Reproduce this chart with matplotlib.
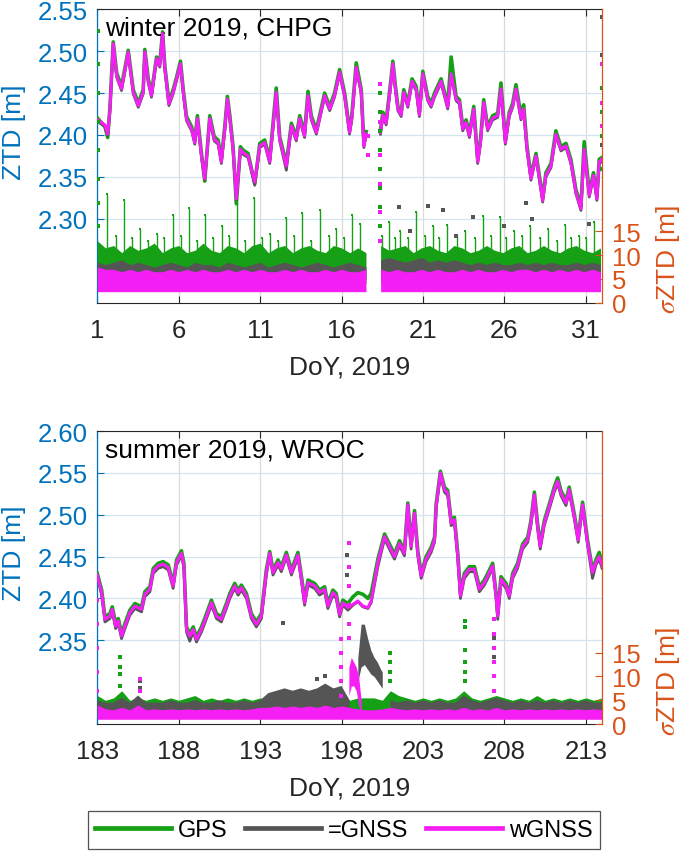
import numpy as np
import matplotlib
matplotlib.use('Agg')
import matplotlib.pyplot as plt
from matplotlib.lines import Line2D

plt.rcParams['font.family'] = ['Liberation Sans', 'DejaVu Sans']
plt.rcParams['mathtext.fontset'] = 'stix'

C_GPS = '#15a015'
C_GNSS = '#555555'
C_W = '#f51ef5'
C_BLUE = '#0072bd'
C_OR = '#d95319'
C_DARK = '#262626'

# ---------------- winter (CHPG) ZTD [m] ----------------
win_day = [1.02, 1.47, 1.64, 1.78, 1.98, 2.19, 2.49, 2.90, 3.21, 3.52, 3.82, 3.92, 4.13, 4.33,
           4.64, 4.84, 5.01, 5.15, 5.40, 5.66, 5.87, 6.11, 6.28, 6.48, 6.79, 6.99, 7.15, 7.40,
           7.60, 7.91, 8.18, 8.42, 8.62, 8.83, 8.99, 9.14, 9.34, 9.54, 9.79, 9.95, 10.26, 10.67,
           10.98, 11.28, 11.59, 11.99, 12.20, 12.61, 12.92, 13.22, 13.43, 13.73, 13.94, 14.14,
           14.45, 14.65, 14.96, 15.27, 15.57, 15.88, 16.19, 16.49, 16.63, 16.90, 17.21, 17.37,
           17.51, 17.90, 18.39, 18.54, 18.74, 19.01, 19.15, 19.31, 19.46, 19.66, 19.82, 20.07,
           20.33, 20.58, 20.78, 20.99, 21.29, 21.50, 21.71, 22.11, 22.52, 22.73, 23.03, 23.24,
           23.44, 23.65, 23.85, 24.12, 24.36, 24.53, 24.73, 24.97, 25.28, 25.59, 25.79, 26.06,
           26.30, 26.51, 26.71, 27.02, 27.18, 27.39, 27.63, 27.94, 28.35, 28.55, 28.86, 29.16,
           29.47, 29.78, 30.08, 30.39, 30.70, 30.90, 31.21, 31.47, 31.68, 31.82, 31.98]
nan = np.nan
win_ztd_wgnss = [2.418, 2.412, 2.401, 2.431, 2.509, 2.471, 2.455, 2.499, 2.451, 2.435, 2.451, 2.499,
                 2.464, 2.447, 2.491, 2.483, 2.521, 2.479, 2.437, 2.451, 2.467, 2.485, 2.451, 2.419,
                 2.407, 2.391, 2.420, 2.375, 2.348, 2.420, 2.395, 2.391, 2.368, 2.407, 2.443, 2.420,
                 2.383, 2.324, 2.383, 2.379, 2.375, 2.344, 2.387, 2.391, 2.368, 2.451, 2.395, 2.363,
                 2.411, 2.395, 2.420, 2.399, 2.447, 2.420, 2.403, 2.420, 2.447, 2.431, 2.447, 2.475,
                 2.447, 2.403, 2.420, 2.481, 2.451, 2.387, 2.401, nan, 2.403, 2.424, 2.414, 2.459,
                 2.485, 2.455, 2.431, 2.424, 2.451, 2.435, 2.464, 2.455, 2.424, 2.473, 2.443, 2.435,
                 2.447, 2.464, 2.433, 2.473, 2.443, 2.439, 2.407, 2.415, 2.399, 2.431, 2.368, 2.391,
                 2.439, 2.407, 2.420, 2.423, 2.455, 2.391, 2.424, 2.435, 2.455, 2.420, 2.431, 2.383,
                 2.348, 2.375, 2.322, 2.352, 2.363, 2.401, 2.383, 2.387, 2.368, 2.332, 2.312, 2.383,
                 2.328, 2.352, 2.324, 2.368, 2.370]
win_ztd_gps = [2.420, 2.410, 2.397, 2.433, 2.511, 2.474, 2.458, 2.501, 2.454, 2.438, 2.454, 2.502,
               2.467, 2.450, 2.493, 2.486, 2.523, 2.482, 2.440, 2.454, 2.469, 2.488, 2.454, 2.422,
               2.410, 2.394, 2.423, 2.378, 2.345, 2.423, 2.398, 2.394, 2.371, 2.410, 2.446, 2.423,
               2.386, 2.318, 2.386, 2.382, 2.378, 2.342, 2.390, 2.394, 2.371, 2.456, 2.398, 2.366,
               2.414, 2.398, 2.423, 2.402, 2.452, 2.423, 2.406, 2.423, 2.450, 2.434, 2.450, 2.478,
               2.450, 2.406, 2.423, 2.486, 2.454, 2.390, 2.404, nan, 2.406, 2.427, 2.417, 2.462,
               2.488, 2.458, 2.434, 2.427, 2.454, 2.438, 2.467, 2.458, 2.427, 2.476, 2.446, 2.438,
               2.450, 2.467, 2.436, 2.493, 2.446, 2.442, 2.410, 2.418, 2.402, 2.434, 2.371, 2.394,
               2.442, 2.410, 2.423, 2.426, 2.462, 2.394, 2.427, 2.438, 2.460, 2.423, 2.436, 2.386,
               2.351, 2.378, 2.325, 2.355, 2.366, 2.405, 2.386, 2.390, 2.371, 2.335, 2.315, 2.392,
               2.331, 2.355, 2.327, 2.371, 2.373]
win_ztd_gnss = [2.416, 2.410, 2.399, 2.429, 2.507, 2.469, 2.453, 2.497, 2.449, 2.433, 2.449, 2.497,
                2.462, 2.445, 2.489, 2.481, 2.519, 2.477, 2.435, 2.449, 2.465, 2.483, 2.449, 2.417,
                2.405, 2.389, 2.418, 2.373, 2.346, 2.418, 2.393, 2.389, 2.366, 2.405, 2.441, 2.418,
                2.381, 2.322, 2.381, 2.377, 2.373, 2.340, 2.385, 2.389, 2.366, 2.449, 2.393, 2.358,
                2.409, 2.393, 2.418, 2.397, 2.445, 2.418, 2.401, 2.418, 2.445, 2.429, 2.445, 2.473,
                2.445, 2.401, 2.418, 2.479, 2.449, 2.385, 2.399, nan, 2.401, 2.422, 2.412, 2.457,
                2.483, 2.453, 2.429, 2.422, 2.449, 2.433, 2.462, 2.453, 2.422, 2.471, 2.441, 2.433,
                2.445, 2.462, 2.431, 2.471, 2.441, 2.437, 2.405, 2.413, 2.397, 2.429, 2.366, 2.389,
                2.437, 2.405, 2.418, 2.421, 2.453, 2.389, 2.422, 2.433, 2.453, 2.418, 2.429, 2.381,
                2.346, 2.373, 2.320, 2.350, 2.361, 2.399, 2.381, 2.385, 2.366, 2.330, 2.310, 2.381,
                2.326, 2.350, 2.322, 2.366, 2.368]

# ---------------- winter sigma envelopes [per half day] ----------------
win_sdayA = np.arange(1.0, 17.51, 0.5)
win_sdayB = np.arange(18.4, 31.91, 0.5)
win_gps_hiA = [13, 11.5, 12, 10.5, 12, 11, 11.5, 12.5, 10.5, 11.5, 12, 10.5, 11, 12.5, 11, 10.5, 12,
               11.5, 10.5, 12, 12.5, 10.5, 11.5, 12, 10.5, 11.5, 12, 11, 10.5, 12, 11.5, 10.5, 11.5, 10.5]
win_gps_hiB = [12, 11, 11.5, 12, 10.5, 11.5, 12, 11, 10.5, 12, 11.5, 10.5, 11, 12, 11, 10.5, 11.5,
               12, 10.5, 11, 12, 11, 10.5, 11.5, 12, 11, 10.5, 11.5]
win_gnss_hiA = [8.5, 8, 8.5, 9, 8, 8.5, 8, 7.5, 8, 8.5, 8, 7.5, 8.5, 8, 8, 7.5, 8.5, 8, 7.5, 8, 8.5,
                7.5, 8, 8.5, 8, 7.5, 8, 8.5, 8, 7.5, 8, 8.5, 8, 7.5]
win_gnss_hiB = [9, 9.5, 9, 8.5, 9, 9.5, 8.5, 9, 8.5, 9, 8.5, 8, 8.5, 8, 8.5, 8, 8, 8.5, 8, 8.5, 8,
                8.5, 8, 8, 8.5, 8, 8.5, 8]
win_w_hiA = [7.5, 7, 7, 6.5, 7, 6.5, 7, 6.5, 6.5, 7, 6.5, 7, 6.5, 7, 6.5, 6.5, 7, 6.5, 7, 6.5, 7,
             6.5, 6.5, 7, 6.5, 7, 6.5, 6.5, 7, 6.5, 7, 6.5, 6.5, 7]
win_w_hiB = [7, 6.5, 7, 6.5, 6.5, 7, 6.5, 7, 6.5, 6.5, 7, 6.5, 7, 6.5, 6.5, 7, 6.5, 7, 7, 6.5, 7,
             6.5, 7, 6.5, 7, 6.5, 7, 6.5]
win_gps_lo, win_gnss_lo, win_w_lo = 4.0, 5.0, 2.3

# GPS sigma spikes (day, top value)
win_spk_day = [1.62, 2.14, 2.64, 3.12, 3.62, 4.13, 4.64, 5.1, 5.62, 6.14, 6.64, 7.1, 7.60, 8.1,
               8.63, 9.1, 9.55, 10.1, 10.61, 11.1, 11.59, 12.1, 12.61, 13.1, 13.59, 14.1, 14.65,
               15.2, 15.68, 16.15, 16.66, 17.11, 18.5, 18.9, 19.3, 19.6, 20.1, 20.6, 21.1, 21.6,
               22.0, 22.5, 23.1, 23.6, 24.2, 24.7, 25.2, 25.7, 26.1, 26.6, 27.1, 27.6, 28.2, 28.7,
               29.2, 29.7, 30.1, 30.6, 31.0, 31.5]
win_spk_sig = [22.8, 14, 21.6, 13.5, 15.5, 13, 14.5, 13.5, 18.5, 14, 19.8, 13, 18.3, 13.5, 16,
               14, 21.1, 13, 21.9, 13.5, 14.5, 13, 17.8, 14, 18.9, 13, 19.5, 14, 15.5, 13.5,
               18.3, 16.6, 14, 17, 13.5, 15, 13.5, 19, 14, 16, 13.5, 16.4, 14, 15, 13.5, 18.1,
               14, 18, 13.5, 15, 14, 16, 13.5, 15.5, 13, 16.4, 13.5, 14, 13.5, 17]
# isolated outliers
win_pt_gps_day = [1.02, 1.02, 1.02, 1.02, 1.02, 1.02, 1.02, 1.02, 18.38, 18.38, 18.38, 18.38,
                  18.38, 18.38, 18.38, 18.38, 31.97, 31.97, 31.97, 31.97]
win_pt_gps_sig = [57, 50, 44, 38, 32, 26, 21, 16, 44, 40, 36, 32, 28, 24, 20, 16, 45, 40, 35, 28]
win_pt_gnss_day = [19.5, 21.3, 22.2, 24.1, 27.3, 27.7, 31.2, 20.2, 23.0, 26.0, 31.97, 31.97, 31.97]
win_pt_gnss_sig = [20, 20.2, 19.4, 18, 21, 17.5, 16.5, 15, 14, 16, 60, 52, 33]
win_pt_w_day = [18.38, 18.38, 18.38, 18.38, 18.38, 18.38, 31.97, 31.97, 31.97, 31.97, 17.6, 17.65]
win_pt_w_sig = [46, 38, 31, 25, 19, 13, 50, 42, 37, 30, 35, 31]

# ---------------- summer (WROC) ZTD [m] ----------------
sum_day = [183.00, 183.27, 183.47, 183.78, 183.92, 184.13, 184.29, 184.49, 184.70, 185.00, 185.31,
           185.72, 185.92, 186.23, 186.44, 186.74, 187.05, 187.36, 187.66, 187.87, 188.17, 188.32,
           188.48, 188.68, 188.89, 189.09, 189.40, 189.71, 190.01, 190.32, 190.62, 190.93, 191.14,
           191.44, 191.65, 191.85, 192.16, 192.46, 192.77, 193.08, 193.38, 193.59, 193.79, 194.10,
           194.30, 194.61, 194.92, 195.32, 195.57, 195.73, 195.94, 196.35, 196.65, 196.96, 197.16,
           197.47, 197.67, 197.88, 198.08, 198.39, 198.70, 199.00, 199.31, 199.62, 199.82, 200.23,
           200.64, 200.94, 201.25, 201.56, 201.86, 202.07, 202.27, 202.48, 202.68, 202.89, 203.19,
           203.50, 203.71, 203.81, 204.07, 204.32, 204.52, 204.73, 204.93, 205.14, 205.30, 205.54,
           205.85, 206.16, 206.46, 206.77, 206.98, 207.28, 207.49, 207.59, 207.79, 208.10, 208.30,
           208.51, 208.81, 209.12, 209.43, 209.63, 209.84, 210.04, 210.20, 210.45, 210.76, 211.06,
           211.27, 211.47, 211.78, 211.98, 212.29, 212.53, 212.80, 213.11, 213.41, 213.62, 213.82,
           214.00]
sum_ztd_wgnss = [2.428, 2.407, 2.375, 2.379, 2.387, 2.367, 2.373, 2.355, 2.367, 2.383, 2.391, 2.387,
                 2.405, 2.411, 2.433, 2.439, 2.441, 2.437, 2.415, 2.443, 2.454, 2.439, 2.363, 2.355,
                 2.363, 2.351, 2.363, 2.379, 2.395, 2.379, 2.375, 2.391, 2.403, 2.415, 2.407, 2.413,
                 2.403, 2.379, 2.369, 2.379, 2.431, 2.454, 2.431, 2.443, 2.435, 2.452, 2.431, 2.452,
                 2.419, 2.395, 2.419, 2.415, 2.407, 2.411, 2.391, 2.407, 2.403, 2.381, 2.395, 2.389,
                 2.393, 2.397, 2.391, 2.389, 2.397, 2.443, 2.474, 2.462, 2.450, 2.466, 2.454, 2.512,
                 2.462, 2.502, 2.454, 2.427, 2.447, 2.458, 2.470, 2.510, 2.550, 2.530, 2.526, 2.490,
                 2.494, 2.450, 2.403, 2.427, 2.435, 2.435, 2.411, 2.419, 2.427, 2.439, 2.403, 2.379,
                 2.423, 2.415, 2.403, 2.427, 2.439, 2.462, 2.470, 2.490, 2.524, 2.486, 2.462, 2.490,
                 2.510, 2.530, 2.540, 2.526, 2.514, 2.530, 2.498, 2.470, 2.512, 2.466, 2.431, 2.443,
                 2.450, 2.439]
sum_ztd_gps = [2.430, 2.410, 2.378, 2.382, 2.390, 2.370, 2.376, 2.358, 2.370, 2.386, 2.394, 2.390,
               2.408, 2.414, 2.436, 2.442, 2.444, 2.440, 2.418, 2.446, 2.457, 2.442, 2.366, 2.358,
               2.366, 2.354, 2.366, 2.382, 2.398, 2.382, 2.378, 2.394, 2.406, 2.418, 2.410, 2.416,
               2.406, 2.382, 2.372, 2.382, 2.434, 2.456, 2.434, 2.446, 2.438, 2.455, 2.434, 2.455,
               2.422, 2.398, 2.422, 2.418, 2.410, 2.414, 2.394, 2.410, 2.406, 2.384, 2.398, 2.394,
               2.402, 2.407, 2.405, 2.400, 2.406, 2.447, 2.477, 2.465, 2.453, 2.469, 2.457, 2.514,
               2.465, 2.505, 2.457, 2.430, 2.450, 2.461, 2.473, 2.513, 2.552, 2.533, 2.529, 2.493,
               2.497, 2.453, 2.406, 2.430, 2.438, 2.438, 2.414, 2.422, 2.430, 2.442, 2.406, 2.382,
               2.426, 2.418, 2.406, 2.430, 2.442, 2.465, 2.473, 2.493, 2.527, 2.489, 2.465, 2.493,
               2.513, 2.533, 2.544, 2.529, 2.517, 2.533, 2.501, 2.473, 2.515, 2.469, 2.434, 2.446,
               2.455, 2.442]
sum_ztd_gnss = [2.426, 2.404, 2.372, 2.376, 2.384, 2.364, 2.370, 2.352, 2.364, 2.380, 2.388, 2.384,
                2.402, 2.408, 2.430, 2.436, 2.438, 2.434, 2.412, 2.440, 2.451, 2.436, 2.360, 2.349,
                2.360, 2.348, 2.360, 2.376, 2.392, 2.376, 2.372, 2.388, 2.400, 2.412, 2.404, 2.410,
                2.400, 2.376, 2.366, 2.376, 2.428, 2.451, 2.428, 2.440, 2.432, 2.449, 2.428, 2.449,
                2.416, 2.392, 2.416, 2.412, 2.404, 2.408, 2.388, 2.404, 2.400, 2.378, 2.392, 2.386,
                2.392, 2.396, 2.390, 2.388, 2.395, 2.438, 2.471, 2.459, 2.447, 2.463, 2.451, 2.509,
                2.459, 2.499, 2.451, 2.424, 2.444, 2.455, 2.467, 2.507, 2.547, 2.527, 2.523, 2.487,
                2.491, 2.447, 2.400, 2.424, 2.432, 2.432, 2.408, 2.416, 2.424, 2.436, 2.400, 2.375,
                2.420, 2.412, 2.400, 2.424, 2.436, 2.459, 2.467, 2.487, 2.521, 2.483, 2.459, 2.487,
                2.507, 2.527, 2.537, 2.523, 2.511, 2.527, 2.495, 2.467, 2.509, 2.463, 2.424, 2.440,
                2.447, 2.436]

# ---------------- summer sigma envelopes [per half day] ----------------
sum_sday = np.arange(183.0, 214.01, 0.5)
sum_gps_hi = [6, 5, 5.5, 7, 5, 5.5, 5, 5.5, 5, 5.5, 5, 5.5, 6, 5, 5.5, 5, 5.5, 5, 5.5, 5, 5.5, 5,
              5.5, 5, 5.5, 5, 5.5, 5, 6, 5.5, 6, 5, 5.5, 5.5, 5.5, 5, 7, 6, 5.5, 5, 5.5, 5, 5.5, 5,
              5.5, 7, 5.5, 5, 5.5, 6, 5.5, 5, 5.5, 5, 6, 5, 5.5, 5, 5.5, 5, 5.5, 5, 5.5]
sum_gnss_hi = [5, 4.5, 4.5, 5.5, 4.5, 6, 4.5, 4.5, 4.5, 5, 4.5, 4.5, 5, 4.5, 4.5, 5, 4.5, 4.5, 5,
               4.5, 5, 6.5, 7, 7.5, 7, 7.5, 7, 7.5, 8.5, 7.5, 8, 5, nan, nan, nan, nan, 5, 4.5, 5,
               4.5, 5, 4.5, 5, 4.5, 4.5, 6, 5, 4.5, 5, 5.5, 5, 4.5, 5, 4.5, 5, 4.5, 5, 4.5, 5, 4.5,
               5, 4.5, 4.5]
sum_gnss_lo = [2, 2, 2, 2, 2, 2, 2, 2, 2, 2, 2, 2, 2, 2, 2, 2, 2, 2, 2, 2, 2, 2.5, 3, 3, 3, 3, 3, 3,
               3, 3, 3, 2, nan, nan, nan, nan, 2, 2, 2, 2, 2, 2, 2, 2, 2, 2, 2, 2, 2, 2, 2, 2, 2, 2,
               2, 2, 2, 2, 2, 2, 2, 2, 2]
sum_w_hi = [4, 3.2, 3, 3.5, 3, 4, 3, 3.2, 3, 3.2, 3, 3.2, 3, 3.2, 3, 3.2, 3, 3.2, 3, 3.2, 3.5, 3.5,
            3.8, 3.5, 3.8, 3.5, 3.8, 3.5, 4, 3.5, 3.8, 3.5, 3.2, 3, 3, 3.2, 3.5, 3.2, 3, 3.2, 3,
            3.2, 3, 3.2, 3, 3.5, 3, 3.2, 3, 3.5, 3, 3.2, 3, 3.2, 3, 3.2, 3, 3.2, 3, 3.2, 3, 3.2, 3]
sum_gps_lo, sum_w_lo = 1.5, 1.0

sum_gnss_seg_day = [199.0, 199.2, 199.4, 199.6, 199.8, 200.0, 200.2, 200.4, 200.5]
sum_gnss_seg_hi = [14, 21, 21, 18, 15.5, 14, 13, 11.5, 11]
sum_gnss_seg_lo = [9, 12, 12.5, 11.5, 10.5, 10, 9, 8, 7.5]
sum_w_seg_day = [198.45, 198.6, 198.75, 198.9, 199.05, 199.2]
sum_w_seg_hi = [12, 14, 13, 12, 10, 5]
sum_w_seg_lo = [6, 8, 8, 7, 4, 2]

sum_pt_gps_day = [184.39, 184.39, 184.39, 184.39, 205.58, 205.58, 205.58, 205.58, 205.58, 205.58,
                  201.0, 201.0, 201.0, 201.0]
sum_pt_gps_sig = [14, 12, 10.5, 8, 21.6, 20.5, 15.6, 13, 11, 9, 15, 13, 11, 9]
sum_pt_gnss_day = [198.35, 198.35, 194.4, 207.38, 207.38, 207.38, 185.6, 185.6, 196.5, 197.0]
sum_pt_gnss_sig = [35.6, 31.4, 21.3, 18, 16, 14, 9, 7.5, 9.5, 10]
sum_pt_w_day = [183.0, 183.0, 183.0, 183.0, 183.0, 183.0, 197.98, 197.98, 197.98, 197.98, 197.98,
                198.45, 198.45, 198.45, 198.45, 198.45, 198.45, 207.38, 207.38, 207.38, 207.38,
                207.38, 207.38, 185.6, 185.6]
sum_pt_w_sig = [31, 26, 21, 16, 11, 7, 17.8, 15, 12, 9, 6, 38, 33, 29, 25, 21, 18, 22, 19, 16, 13,
                10, 7, 9.4, 7]

TICK_FS = 18.5
LAB_FS = 19


def draw_panel(ax, days, ztd_gps, ztd_gnss, ztd_w, xlim, xticks, ylim, yticks, title,
               bands, segs, spikes, pts):
    ax2 = ax.twinx()
    # ZTD lines
    ax.plot(days, ztd_gps, color=C_GPS, lw=2.6, zorder=3)
    ax.plot(days, ztd_gnss, color=C_GNSS, lw=2.0, zorder=3.1)
    ax.plot(days, ztd_w, color=C_W, lw=2.2, zorder=3.2)
    # sigma bands
    for (x, lo, hi, c, z) in bands:
        ax2.fill_between(x, lo, hi, color=c, lw=0, zorder=z)
    for (x, lo, hi, c, z) in segs:
        ax2.fill_between(x, lo, hi, color=c, lw=0, zorder=z)
    if spikes is not None:
        sd, ss = spikes
        ax2.vlines(sd, 9, ss, color=C_GPS, lw=1.0, zorder=1)
        ax2.plot(sd, ss, 's', color=C_GPS, ms=2, mew=0, zorder=1)
    for (x, y, c) in pts:
        ax2.plot(x, y, 's', color=c, ms=2.2, mew=0, zorder=2)

    ax.set_xlim(*xlim)
    ax.set_ylim(*ylim)
    ax2.set_ylim(0, 61.6)
    ax.set_xticks(xticks)
    ax.set_yticks(yticks)
    ax.set_yticklabels(['%.2f' % v for v in yticks])
    ax2.set_yticks([0, 5, 10, 15])

    ax.grid(axis='y', color='#d3e5f2', lw=0.9, zorder=0)
    ax.grid(axis='x', color='#dadada', lw=0.9, zorder=0)
    ax.set_axisbelow(True)

    ax.tick_params(axis='x', direction='in', length=5, width=0.8, colors=C_DARK, top=True,
                   labelsize=TICK_FS, pad=11)
    ax.tick_params(axis='y', direction='in', length=5, width=0.8, colors=C_BLUE,
                   labelsize=TICK_FS, pad=7)
    ax2.tick_params(axis='y', direction='in', length=5, width=0.8, colors=C_OR,
                    labelsize=TICK_FS, pad=7)
    for s in ['top', 'bottom']:
        ax.spines[s].set_color(C_DARK)
        ax.spines[s].set_linewidth(0.8)
    ax.spines['left'].set_color(C_BLUE)
    ax.spines['right'].set_visible(False)
    for s in ['left', 'top', 'bottom']:
        ax2.spines[s].set_visible(False)
    ax2.spines['right'].set_color(C_OR)
    ax2.spines['right'].set_linewidth(0.9)
    ax.spines['left'].set_linewidth(0.9)

    ax.text(0.016, 0.937, title, transform=ax.transAxes, ha='left', va='center',
            fontsize=LAB_FS, color='black')
    ax.text(0.5, -0.218, 'DoY, 2019', transform=ax.transAxes, ha='center', va='center',
            fontsize=LAB_FS, color=C_DARK)
    ax.text(-0.165, 0.585, 'ZTD [m]', transform=ax.transAxes, ha='center', va='center',
            rotation=90, fontsize=LAB_FS, color=C_BLUE)
    ax.text(1.131, 0.149, r'$\sigma$ZTD [m]', transform=ax.transAxes, ha='center',
            va='center', rotation=90, fontsize=LAB_FS, color=C_OR)
    return ax2


fig = plt.figure(figsize=(6.85, 8.53), dpi=100)
ax_top = fig.add_axes([0.142, 0.644, 0.737, 0.344])
ax_bot = fig.add_axes([0.142, 0.150, 0.737, 0.3435])

win_bands = [
    (win_sdayA, win_gps_lo, win_gps_hiA, C_GPS, 1),
    (win_sdayB, win_gps_lo, win_gps_hiB, C_GPS, 1),
    (win_sdayA, win_gnss_lo, win_gnss_hiA, C_GNSS, 1.5),
    (win_sdayB, win_gnss_lo, win_gnss_hiB, C_GNSS, 1.5),
    (win_sdayA, win_w_lo, win_w_hiA, C_W, 1.8),
    (win_sdayB, win_w_lo, win_w_hiB, C_W, 1.8),
]
win_pts = [(win_pt_gps_day, win_pt_gps_sig, C_GPS), (win_pt_gnss_day, win_pt_gnss_sig, C_GNSS),
           (win_pt_w_day, win_pt_w_sig, C_W)]
draw_panel(ax_top, win_day, win_ztd_gps, win_ztd_gnss, win_ztd_wgnss, (1, 32),
           [1, 6, 11, 16, 21, 26, 31], (2.20, 2.55), [2.30, 2.35, 2.40, 2.45, 2.50, 2.55],
           'winter 2019, CHPG', win_bands, [], (win_spk_day, win_spk_sig), win_pts)

sum_bands = [
    (sum_sday, sum_gps_lo, sum_gps_hi, C_GPS, 1),
    (sum_sday, sum_gnss_lo, sum_gnss_hi, C_GNSS, 1.5),
    (sum_sday, sum_w_lo, sum_w_hi, C_W, 1.8),
]
sum_segs = [
    (sum_gnss_seg_day, sum_gnss_seg_lo, sum_gnss_seg_hi, C_GNSS, 1.5),
    (sum_w_seg_day, sum_w_seg_lo, sum_w_seg_hi, C_W, 1.8),
]
sum_pts = [(sum_pt_gps_day, sum_pt_gps_sig, C_GPS), (sum_pt_gnss_day, sum_pt_gnss_sig, C_GNSS),
           (sum_pt_w_day, sum_pt_w_sig, C_W)]
draw_panel(ax_bot, sum_day, sum_ztd_gps, sum_ztd_gnss, sum_ztd_wgnss, (183, 214),
           [183, 188, 193, 198, 203, 208, 213], (2.25, 2.60), [2.35, 2.40, 2.45, 2.50, 2.55, 2.60],
           'summer 2019, WROC', sum_bands, sum_segs, None, sum_pts)

handles = [Line2D([], [], color=C_GPS, lw=3.4), Line2D([], [], color=C_GNSS, lw=3.4),
           Line2D([], [], color=C_W, lw=3.4)]
leg = fig.legend(handles, ['GPS', '=GNSS', 'wGNSS'], loc='center', bbox_to_anchor=(0.502, 0.0258),
                 ncol=3, frameon=True, fancybox=False, fontsize=17, handlelength=3.2,
                 handletextpad=0.3, columnspacing=0.75, borderpad=0.32)
leg.get_frame().set_edgecolor(C_DARK)
leg.get_frame().set_linewidth(0.9)

fig.savefig('out.png', dpi=100)
